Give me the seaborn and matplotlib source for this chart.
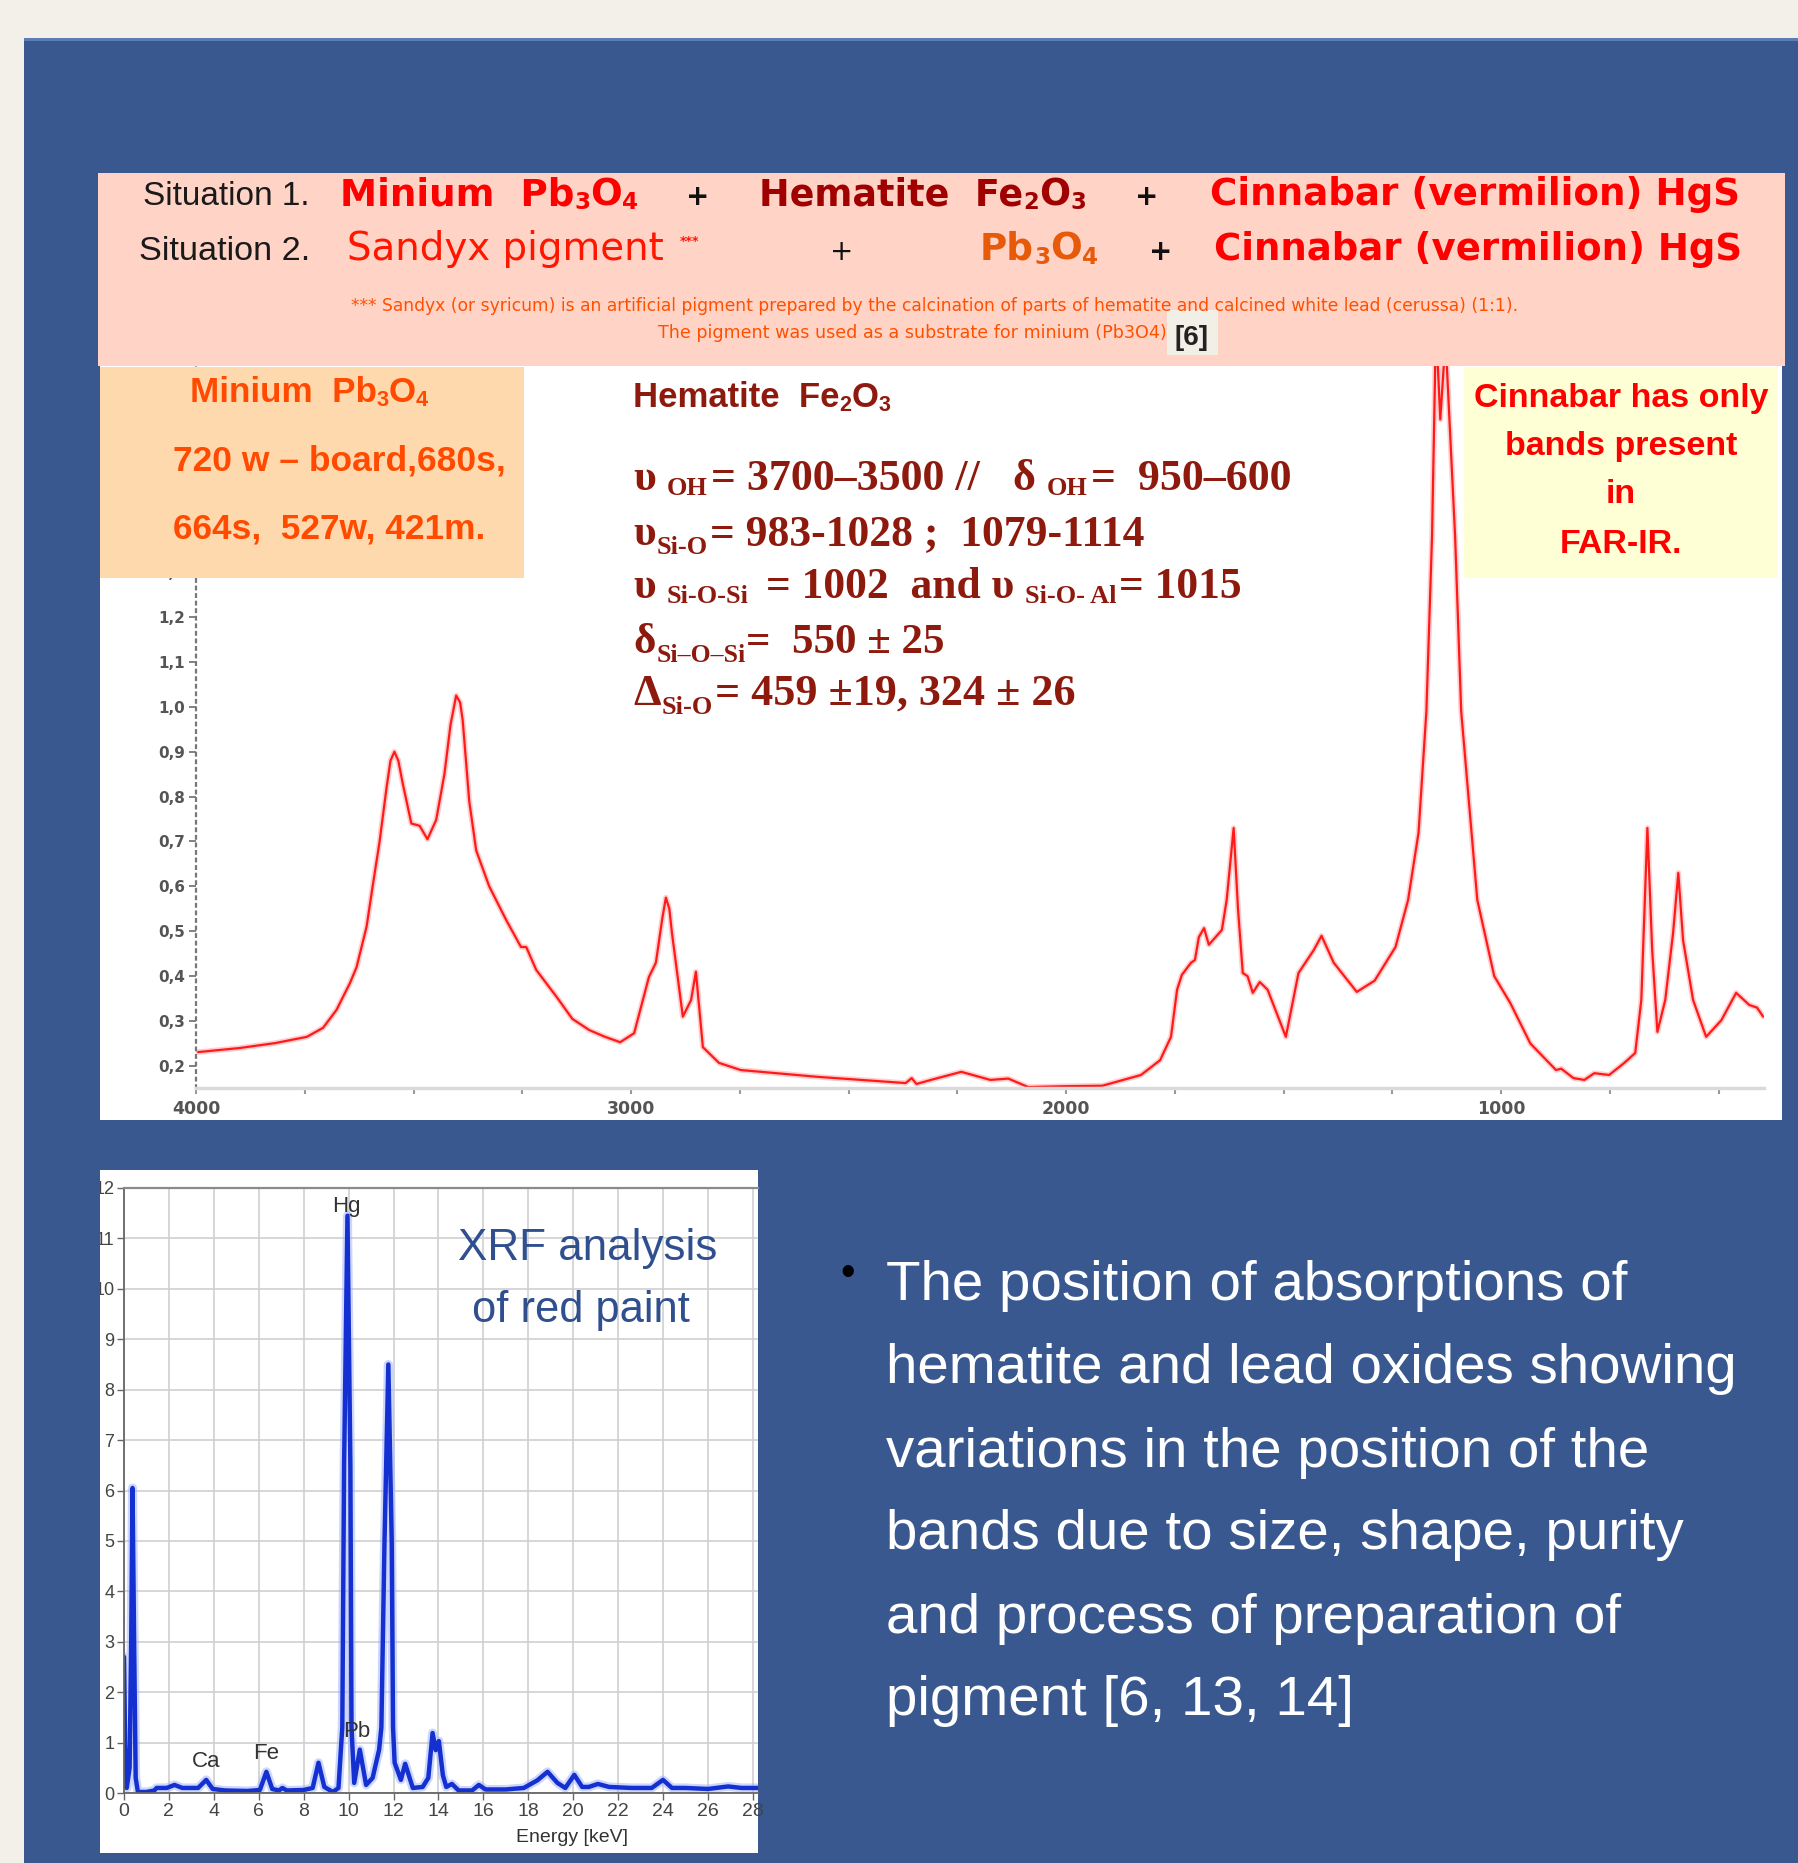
import matplotlib
matplotlib.use("Agg")
import matplotlib.pyplot as plt
from matplotlib.patches import Rectangle
from matplotlib.ticker import FuncFormatter, MultipleLocator, FixedLocator
from matplotlib import font_manager
import seaborn as sns
import pandas as pd

W, H = 1799, 1863
sns.set_style("white")
_names = {f.name for f in font_manager.fontManager.ttflist}
NARROW = ["Liberation Sans Narrow", "Liberation Sans", "DejaVu Sans"] if "Liberation Sans Narrow" in _names else ["Liberation Sans", "DejaVu Sans"]
SANS = ["Liberation Sans", "DejaVu Sans"]
WIDE = ["DejaVu Sans"]
SERIF = ["Liberation Serif", "DejaVu Serif"]
plt.rcParams['font.family'] = SANS

# ---------------- data ----------------
ir_wavenumber = [3995, 3900, 3818, 3745, 3708, 3677, 3646, 3631, 3608, 3594,
                 3578, 3562, 3553, 3544, 3535, 3525, 3505, 3486, 3468, 3448,
                 3429, 3415, 3402, 3393, 3387, 3372, 3356, 3326, 3287, 3253,
                 3241, 3218, 3172, 3135, 3096, 3060, 3025, 2993, 2959, 2943,
                 2928, 2920, 2912, 2906, 2881, 2862, 2851, 2835, 2798, 2748,
                 2573, 2369, 2355, 2344, 2307, 2241, 2174, 2133, 2087, 2005,
                 1917, 1828, 1784, 1759, 1745, 1734, 1713, 1704, 1695, 1683,
                 1672, 1642, 1631, 1615, 1605, 1594, 1583, 1571, 1555, 1537,
                 1495, 1466, 1431, 1413, 1385, 1332, 1291, 1243, 1214, 1190,
                 1172, 1159, 1150, 1140, 1128, 1106, 1092, 1055, 1016, 979,
                 933, 874, 862, 834, 809, 786, 752, 717, 692, 678,
                 664, 653, 641, 623, 605, 593, 582, 559, 529, 494,
                 460, 430, 412, 398]
ir_absorbance = [0.231, 0.240, 0.251, 0.265, 0.285, 0.325, 0.385, 0.42, 0.51, 0.60,
                 0.70, 0.82, 0.88, 0.90, 0.88, 0.83, 0.74, 0.735, 0.705, 0.748,
                 0.85, 0.96, 1.025, 1.01, 0.97, 0.79, 0.68, 0.60, 0.525, 0.465,
                 0.465, 0.414, 0.355, 0.305, 0.28, 0.265, 0.253, 0.273, 0.398, 0.43,
                 0.53, 0.575, 0.55, 0.496, 0.31, 0.347, 0.41, 0.242, 0.207, 0.191,
                 0.176, 0.162, 0.173, 0.160, 0.170, 0.187, 0.169, 0.172, 0.153, 0.155,
                 0.156, 0.180, 0.213, 0.265, 0.37, 0.403, 0.43, 0.436, 0.487, 0.507,
                 0.47, 0.503, 0.57, 0.73, 0.55, 0.407, 0.40, 0.363, 0.387, 0.37,
                 0.265, 0.407, 0.458, 0.49, 0.43, 0.365, 0.39, 0.465, 0.57, 0.72,
                 0.99, 1.38, 1.85, 1.64, 1.82, 1.38, 0.99, 0.57, 0.40, 0.34,
                 0.25, 0.191, 0.194, 0.173, 0.169, 0.184, 0.18, 0.207, 0.229, 0.347,
                 0.73, 0.458, 0.276, 0.347, 0.496, 0.63, 0.48, 0.347, 0.265, 0.302,
                 0.363, 0.336, 0.33, 0.31]
ir_xticks = [4000, 3000, 2000, 1000]
ir_yticks = [0.2, 0.3, 0.4, 0.5, 0.6, 0.7, 0.8, 0.9, 1.0, 1.1, 1.2, 1.3]

xrf_energy = [0.0, 0.05, 0.12, 0.25, 0.32, 0.38, 0.45, 0.52, 0.62, 1.0,
              1.35, 1.45, 1.9, 2.25, 2.6, 3.3, 3.66, 3.95, 4.5, 5.5,
              6.05, 6.34, 6.6, 6.9, 7.05, 7.25, 8.0, 8.4, 8.66, 8.92,
              9.3, 9.55, 9.72, 9.8, 9.95, 10.08, 10.13, 10.25, 10.5, 10.78,
              11.07, 11.36, 11.46, 11.6, 11.77, 11.92, 11.98, 12.05, 12.33, 12.52,
              12.86, 13.3, 13.55, 13.74, 13.88, 14.02, 14.2, 14.35, 14.6, 14.9,
              15.5, 15.8, 16.1, 17.0, 17.8, 18.4, 18.86, 19.3, 19.65, 20.05,
              20.4, 20.7, 21.1, 21.6, 22.6, 23.5, 24.0, 24.4, 25.0, 26.0,
              26.9, 27.5, 28.23]
xrf_counts = [2.7, 1.0, 0.1, 0.5, 3.0, 6.05, 3.0, 0.3, 0.02, 0.02,
              0.05, 0.1, 0.1, 0.16, 0.1, 0.1, 0.26, 0.08, 0.05, 0.04,
              0.06, 0.42, 0.08, 0.05, 0.1, 0.05, 0.06, 0.1, 0.6, 0.12,
              0.02, 0.1, 1.3, 6.5, 11.45, 6.5, 1.3, 0.2, 0.86, 0.16,
              0.3, 0.86, 1.3, 5.0, 8.5, 5.0, 1.3, 0.6, 0.26, 0.58,
              0.1, 0.12, 0.3, 1.19, 0.85, 1.03, 0.35, 0.12, 0.18, 0.05,
              0.05, 0.16, 0.07, 0.07, 0.1, 0.25, 0.42, 0.2, 0.1, 0.36,
              0.12, 0.12, 0.18, 0.12, 0.1, 0.1, 0.26, 0.1, 0.1, 0.08,
              0.13, 0.1, 0.1]
xrf_xticks = list(range(0, 29, 2))
xrf_yticks = list(range(0, 13))
xrf_peak_names = ["Hg", "Ca", "Fe", "Pb"]

bullet_lines = ["The position of absorptions of",
                "hematite and lead oxides showing",
                "variations in the position of the",
                "bands due to size, shape, purity",
                "and process of preparation of",
                "pigment [6, 13, 14]"]

# ---------------- colours ----------------
CREAM = "#F3F0E9"
BLUE = "#38588F"
PINK = "#FFD4C7"
PEACH = "#FFD9AE"
YELLOW = "#FFFFD5"

fig = plt.figure(figsize=(W / 100, H / 100), dpi=100)
fig.patch.set_facecolor(CREAM)
renderer = fig.canvas.get_renderer()


def rect(x0, y0, x1, y1, color, z):
    fig.add_artist(Rectangle((x0 / W, 1 - y1 / H), (x1 - x0) / W, (y1 - y0) / H,
                             transform=fig.transFigure, facecolor=color,
                             edgecolor='none', zorder=z))


def rich(x, yb, pieces, size, family, weight='normal', color='k', width=None, ha='left'):
    def build(sz, x0):
        arts = []
        xc = x0
        for p in pieces:
            txt, rel, dy, gap = p[:4]
            col = p[4] if len(p) > 4 else color
            px = sz * 100 / 72
            xc += gap * px
            t = fig.text(xc / W, 1 - (yb + dy * px) / H, txt, fontsize=sz * rel,
                         family=family, weight=weight, color=col,
                         va='baseline', ha='left', zorder=5)
            xc = t.get_window_extent(renderer).x1
            arts.append(t)
        return arts, xc - x0
    arts, w = build(size, x)
    if width is not None or ha != 'left':
        for a in arts:
            a.remove()
        if width is not None:
            size = size * width / w
            arts, w = build(size, x)
            for a in arts:
                a.remove()
        x0 = x - w / 2 if ha == 'center' else x
        arts, w = build(size, x0)
    return size


# ---------------- backgrounds ----------------
rect(24, 38, W, H, BLUE, -10)
rect(24, 38, W, 41, "#5A7DB5", -9)
rect(98, 173, 1785, 366, PINK, 1)
rect(100, 366, 1782, 1120, "white", -5)
rect(100, 1170, 758, 1853, "white", -5)

# ---------------- IR spectrum ----------------
ax1 = fig.add_axes([196 / W, 1 - 1088 / H, (1764 - 196) / W, (1088 - 366) / H])
ax1.patch.set_alpha(0)
df_ir = pd.DataFrame({"wavenumber": ir_wavenumber, "absorbance": ir_absorbance})
sns.lineplot(data=df_ir, x="wavenumber", y="absorbance", ax=ax1, sort=False,
             estimator=None, color="#FFB8B8", lw=4.0, alpha=0.7)
sns.lineplot(data=df_ir, x="wavenumber", y="absorbance", ax=ax1, sort=False,
             estimator=None, color="#FF1A1A", lw=1.6)
ax1.set_xlim(4000, 396)
ax1.set_ylim(0.151, 1.759)
ax1.set_xlabel("")
ax1.set_ylabel("")
ax1.xaxis.set_major_locator(FixedLocator(ir_xticks))
ax1.xaxis.set_minor_locator(MultipleLocator(250))
ax1.yaxis.set_major_locator(FixedLocator(ir_yticks))
ax1.yaxis.set_major_formatter(FuncFormatter(lambda v, p: f"{v:.1f}".replace('.', ',')))
for s in ["top", "right"]:
    ax1.spines[s].set_visible(False)
ax1.spines["left"].set_linestyle((0, (1.2, 2.2)))
ax1.spines["left"].set_color("#777777")
ax1.spines["left"].set_linewidth(1.6)
ax1.spines["bottom"].set_color("#DADADA")
ax1.spines["bottom"].set_linewidth(2.5)
ax1.tick_params(axis="y", direction="out", length=5, width=1.3, color="#777777",
                labelsize=11, labelcolor="#555555", pad=3, left=True)
ax1.tick_params(axis="x", which="both", direction="out", length=4, width=1.5,
                color="#999999", labelsize=12.5, labelcolor="#555555", pad=5, bottom=True)
for lab in ax1.get_xticklabels() + ax1.get_yticklabels():
    lab.set_fontweight("bold")
    lab.set_family(WIDE)

# ---------------- header ----------------
rich(143, 205, [("Situation 1.", 1, 0, 0)], 15, SANS, color="#1A1A1A", width=168)
rich(340, 205, [("Minium  Pb", 1, 0, 0), ("3", 0.62, 0.1, 0.0), ("O", 1, 0, 0.0), ("4", 0.62, 0.1, 0.0)],
     20, WIDE, "bold", "#FF0000", width=298)
rich(698, 205, [("+", 1, 0, 0)], 20, WIDE, "bold", "#111111", ha="center")
rich(759, 205, [("Hematite  Fe", 1, 0, 0), ("2", 0.62, 0.1, 0.0), ("O", 1, 0, 0.0), ("3", 0.62, 0.1, 0.0)],
     20, WIDE, "bold", "#A00000", width=326)
rich(1147, 205, [("+", 1, 0, 0)], 20, WIDE, "bold", "#111111", ha="center")
rich(1210, 205, [("Cinnabar (vermilion) HgS", 1, 0, 0)], 20, WIDE, "bold", "#FF0000", width=530)

rich(139, 260, [("Situation 2.", 1, 0, 0)], 15, SANS, color="#1A1A1A", width=172)
rich(347, 260, [("Sandyx pigment", 1, 0, 0)], 20, WIDE, "normal", "#FF1500", width=317)
rich(680, 245, [("***", 1, 0, 0)], 9, WIDE, "bold", "#FF1500")
rich(842, 260, [("+", 1, 0, 0)], 20, WIDE, "normal", "#111111", ha="center")
rich(980, 260, [("Pb", 1, 0, 0), ("3", 0.62, 0.1, 0.0), ("O", 1, 0, 0.0), ("4", 0.62, 0.1, 0.0)],
     20, WIDE, "bold", "#E65A0A", width=118)
rich(1161, 260, [("+", 1, 0, 0)], 20, WIDE, "bold", "#111111", ha="center")
rich(1214, 260, [("Cinnabar (vermilion) HgS", 1, 0, 0)], 20, WIDE, "bold", "#FF0000", width=529)

rich(351, 311, [("*** Sandyx (or syricum) is an artificial pigment prepared by the calcination of parts of hematite and calcined white lead (cerussa) (1:1).", 1, 0, 0)],
     8, WIDE, "normal", "#FF5000", width=1171)
rich(658, 338, [("The pigment was used as a substrate for minium (Pb3O4)", 1, 0, 0)],
     8, WIDE, "normal", "#FF5000", width=507)
rect(1167, 310, 1218, 355, "#F2EFE6", 2)
rich(1192, 345, [("[6]", 1, 0, 0)], 20, NARROW, "bold", "#222222", width=34, ha="center")

# ---------------- Minium box ----------------
rect(100, 367, 524, 578, PEACH, 1)
rich(190, 402, [("Minium  Pb", 1, 0, 0), ("3", 0.62, 0.12, 0.0), ("O", 1, 0, 0.0), ("4", 0.62, 0.12, 0.0)],
     24, NARROW, "bold", "#FF4A00", width=239)
rich(173, 470, [("720 w \u2013 board,680s,", 1, 0, 0)], 24, NARROW, "bold", "#FF4A00", width=333)
rich(173, 538, [("664s,  527w, 421m.", 1, 0, 0)], 24, NARROW, "bold", "#FF4A00", width=313)

# ---------------- Hematite text ----------------
HEM = "#8E1A0E"
rich(633, 407, [("Hematite  Fe", 1, 0, 0), ("2", 0.62, 0.12, 0.0), ("O", 1, 0, 0.0), ("3", 0.62, 0.12, 0.0)],
     22, NARROW, "bold", HEM, width=257)
rich(633, 490, [("\u03c5", 1, 0, 0), ("OH", 0.6, 0.12, 0.25), ("= 3700\u20133500 //", 1, 0, 0.08),
                ("\u03b4", 1, 0, 0.75), ("OH", 0.6, 0.12, 0.25), ("=  950\u2013600", 1, 0, 0.08)],
     28, SERIF, "bold", HEM, width=659)
rich(633, 545, [("\u03c5", 1, 0, 0), ("Si-O", 0.6, 0.2, 0.02), ("= 983-1028 ;  1079-1114", 1, 0, 0.05)],
     28, SERIF, "bold", HEM, width=512)
rich(633, 598, [("\u03c5", 1, 0, 0), ("Si-O-Si", 0.6, 0.12, 0.25), ("= 1002  and \u03c5", 1, 0, 0.4),
                ("Si-O- Al", 0.6, 0.12, 0.25), ("= 1015", 1, 0, 0.05)],
     28, SERIF, "bold", HEM, width=610)
rich(633, 653, [("\u03b4", 1, 0, 0), ("Si\u2013O\u2013Si", 0.6, 0.2, 0.02), ("=  550 \u00b1 25", 1, 0, 0.02)],
     28, SERIF, "bold", HEM, width=312)
rich(633, 705, [("\u0394", 1, 0, 0), ("Si-O", 0.6, 0.2, 0.02), ("= 459 \u00b119, 324 \u00b1 26", 1, 0, 0.05)],
     28, SERIF, "bold", HEM, width=442)

# ---------------- Cinnabar box ----------------
rect(1464, 367, 1778, 578, YELLOW, 1)
cs = rich(1621, 407, [("Cinnabar has only", 1, 0, 0)], 26, NARROW, "bold", "#FF0000", width=294, ha="center")
rich(1621, 455, [("bands present", 1, 0, 0)], cs, NARROW, "bold", "#FF0000", ha="center")
rich(1621, 503, [("in", 1, 0, 0)], cs, NARROW, "bold", "#FF0000", ha="center")
rich(1621, 553, [("FAR-IR.", 1, 0, 0)], cs, NARROW, "bold", "#FF0000", ha="center")

# ---------------- XRF spectrum ----------------
ax2 = fig.add_axes([124 / W, 1 - 1793 / H, (758 - 124) / W, (1793 - 1188) / H])
ax2.set_facecolor("white")
df_xrf = pd.DataFrame({"energy": xrf_energy, "counts": xrf_counts})
ax2.grid(True, color="#CFCFCF", lw=1.2)
ax2.set_axisbelow(True)
sns.lineplot(data=df_xrf, x="energy", y="counts", ax=ax2, sort=False, estimator=None,
             color="#9AAEFF", lw=6.5, alpha=0.5)
sns.lineplot(data=df_xrf, x="energy", y="counts", ax=ax2, sort=False, estimator=None,
             color="#1530D0", lw=3.2)
ax2.set_xlim(0, 28.23)
ax2.set_ylim(0, 12)
ax2.set_xticks(xrf_xticks)
ax2.set_yticks(xrf_yticks)
ax2.set_xlabel("")
ax2.set_ylabel("")
ax2.spines["right"].set_visible(False)
for s in ["left", "bottom"]:
    ax2.spines[s].set_color("#666666")
    ax2.spines[s].set_linewidth(1.3)
ax2.spines["top"].set_color("#8A8A8A")
ax2.spines["top"].set_linewidth(1.6)
ax2.tick_params(axis="x", direction="out", length=5, width=1.0, color="#666666",
                labelsize=14, labelcolor="#444444", pad=2, bottom=True)
ax2.tick_params(axis="y", direction="out", length=5, width=1.0, color="#666666",
                labelsize=13, labelcolor="#444444", pad=2, left=True)
for lab in ax2.get_xticklabels() + ax2.get_yticklabels():
    lab.set_family(NARROW)
label_pos = [(9.88, 11.63), (3.65, 0.62), (6.32, 0.79), (10.37, 1.21)]
for name, (xx, yy) in zip(xrf_peak_names, label_pos):
    ax2.text(xx, yy, name, ha="center", va="center", fontsize=16, family=NARROW, color="#333333")
fig.text(572 / W, 1 - 1838 / H, "Energy [keV]", ha="center", va="center", fontsize=14,
         family=NARROW, color="#333333", zorder=5)
rect(24, 1125, 100, H, BLUE, 2)

rich(458, 1260, [("XRF analysis", 1, 0, 0)], 34, NARROW, "normal", "#2F4F8F", width=259)
rich(472, 1322, [("of red paint", 1, 0, 0)], 34, NARROW, "normal", "#2F4F8F", width=218)

# ---------------- bullet text ----------------
fig.text(848 / W, 1 - 1274 / H, "\u2022", ha="center", va="center", fontsize=30, color="black", zorder=5)
bs = rich(886, 1383, [(bullet_lines[1], 1, 0, 0)], 46, NARROW, "normal", "white", width=850)
baselines = [1300, 1383, 1467, 1549, 1633, 1715]
for i, (line, yb) in enumerate(zip(bullet_lines, baselines)):
    if i == 1:
        continue
    rich(886, yb, [(line, 1, 0, 0)], bs, NARROW, "normal", "white")

fig.savefig("out.png", dpi=100, facecolor=CREAM)
